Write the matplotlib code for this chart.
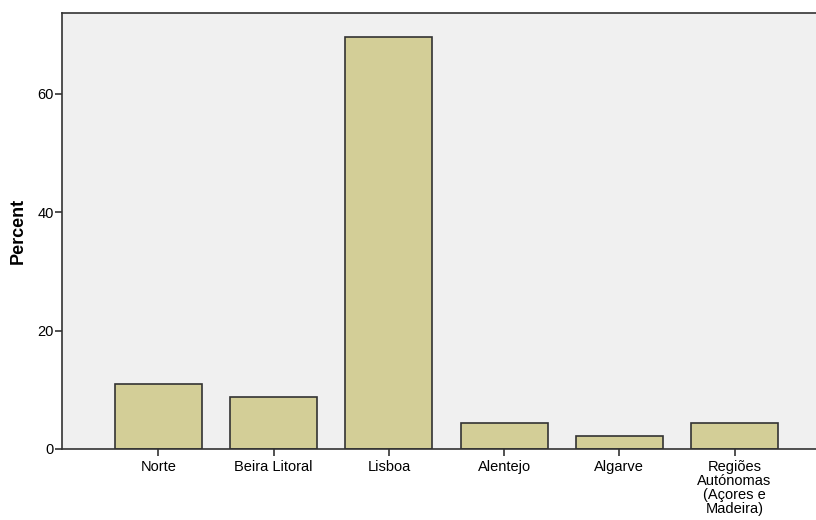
import matplotlib
matplotlib.use("Agg")
import matplotlib.pyplot as plt

# data
regions = ["Norte", "Beira Litoral", "Lisboa", "Alentejo", "Algarve",
           "Regiões\nAutónomas\n(Açores e\nMadeira)"]
percent = [10.9, 8.7, 69.6, 4.4, 2.2, 4.4]
yticks = [0, 20, 40, 60]

plt.rcParams["font.family"] = ["Liberation Sans", "DejaVu Sans"]

fig = plt.figure(figsize=(8.16, 5.20), dpi=100)
# axes run past the right edge of the picture, as in the reference
ax = fig.add_axes([62 / 816, 71 / 520, 769 / 816, 436 / 520])
ax.set_facecolor("#f0f0f0")

x = list(range(len(regions)))
ax.bar(x, percent, width=0.755, color="#d3ce97", edgecolor="#333333", linewidth=1.2)

ax.set_xlim(-0.837, len(regions) - 1 + 0.837)
ax.set_ylim(0, 73.6)
ax.set_yticks(yticks)
ax.set_xticks(x)
ax.set_xticklabels(regions, fontsize=10.5, linespacing=1.0)
ax.tick_params(axis="y", labelsize=10.5, length=5, width=1.2, color="#333333", pad=1)
ax.tick_params(axis="x", length=5, width=1.2, color="#333333", pad=3)

for side in ["left", "bottom", "top", "right"]:
    ax.spines[side].set_color("#333333")
    ax.spines[side].set_linewidth(1.2)

fig.text(18 / 816, 1 - 231 / 520, "Percent", fontsize=13, fontweight="bold",
         rotation=90, ha="center", va="center")

fig.savefig("out.png", dpi=100)
